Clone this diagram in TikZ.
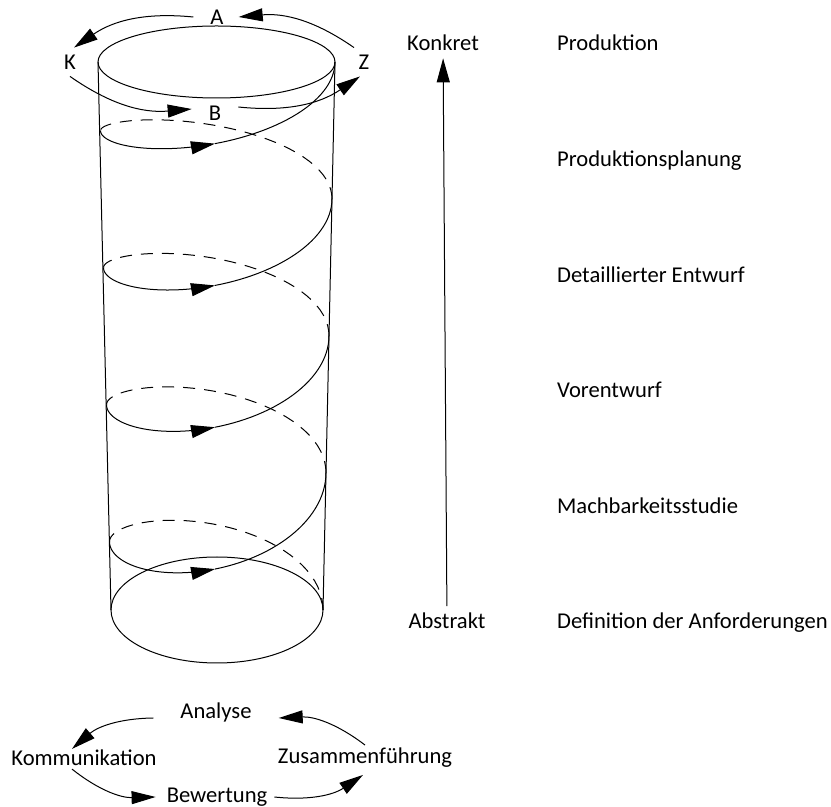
\documentclass[tikz,border=0pt]{standalone}
\usepackage{fontspec}
\setmainfont{Carlito}
\usetikzlibrary{arrows.meta}
\def\Konkret{Konkret}
\def\Abstrakt{Abstrakt}
\def\Prod{Produktion}
\def\Plan{Produktionsplanung}
\def\Detail{Detaillierter Entwurf}
\def\Vorent{Vorentwurf}
\def\Machbar{Machbarkeitsstudie}
\def\Anford{Definition der Anforderungen}
\def\Analyse{Analyse}
\def\Kommu{Kommunikation}
\def\Bewert{Bewertung}
\def\Zusamm{Zusammenführung}
\newcommand{\around}[2]{\draw[pointed] (#1) to[bend right=20] (#2)}
\newcommand{\rises}[2]{\draw[pointed] (#1) -- (#2)}

\begin{document}
\begin{tikzpicture}[x=0.5pt, y=0.5pt,
                    line width=0.5pt,
                    font=\fontsize{11.3}{13.5}\selectfont,
                    pointed/.style={-{Triangle[length=12pt, width=6.5pt]}},
                    back/.style={dash pattern=on 6pt off 4.5pt},
                    phase/.style={anchor=base west},
                    level/.style={anchor=base},
                    declare function={
                        hx(\t)=217+(106-(\t)/120)*cos(\t);
                        hb(\t)=-610-0.380556*(\t)-(52+(\t)/90)*sin(\t);
                        hf(\t)=-610-0.380556*(\t)-(65+(\t)/75)*sin(\t);
                    }]
    \useasboundingbox (0,0) rectangle (831,-807);

    \draw (216.5,-62) ellipse [x radius=118.5, y radius=36];
    \draw (217,-610) ellipse [x radius=106, y radius=53];
    \draw (98,-62) -- (111,-610);
    \draw (335,-62) -- (323,-610);

    \foreach \k in {0,...,3}{
        \draw[back] plot[samples=40, domain=-360*\k:-360*\k-180] ({hx(\x)},{hb(\x)});
        \draw[pointed] plot[samples=40, domain=-360*\k-180:-360*\k-269] ({hx(\x)},{hf(\x)});
        \draw plot[samples=30, domain=-360*\k-269:-360*\k-360] ({hx(\x)},{hf(\x)});
    }

    \node (a) at (217,-17) {A};
    \node (k) at (70,-62) {K};
    \node (z) at (364,-62) {Z};
    \node (b) at (215,-113) {B};

    \around{[xshift=-5pt]a.west}{[xshift=2pt]k.north};
    \around{k.south}{[xshift=-5pt,yshift=2pt]b.west};
    \around{[xshift=5pt,yshift=3pt]b.east}{[xshift=-2pt]z.south};
    \around{[xshift=-5pt]z.north}{[xshift=4pt]a.east};

    \node[level] (kon) at (443,-51) {\Konkret};
    \node[level] (abs) at (447,-629) {\Abstrakt};
    \rises{abs}{kon};

    \node[phase] (prod) at (550,-51) {\Prod};
    \node[phase] (plan) at (550,-167) {\Plan};
    \node[phase] (detail) at (550,-283) {\Detail};
    \node[phase] (vor) at (550,-398) {\Vorent};
    \node[phase] (mach) at (550,-514) {\Machbar};
    \node[phase] (anf) at (550,-629) {\Anford};

    \node (ana) at (216,-712) {\Analyse};
    \node (kom) at (84,-758) {\Kommu};
    \node (zus) at (365,-758) {\Zusamm};
    \node (bew) at (217,-797) {\Bewert};

    \around{[xshift=-10pt,yshift=-3pt]ana.west}{[xshift=-6pt,yshift=-3pt]kom.north};
    \around{[xshift=-6pt,yshift=2pt]kom.south}{[xshift=-2pt]bew.west};
    \around{bew.east}{[xshift=-1pt]zus.south};
    \around{[yshift=-2pt]zus.north}{[xshift=10pt,yshift=-3pt]ana.east};
\end{tikzpicture}
\end{document}
